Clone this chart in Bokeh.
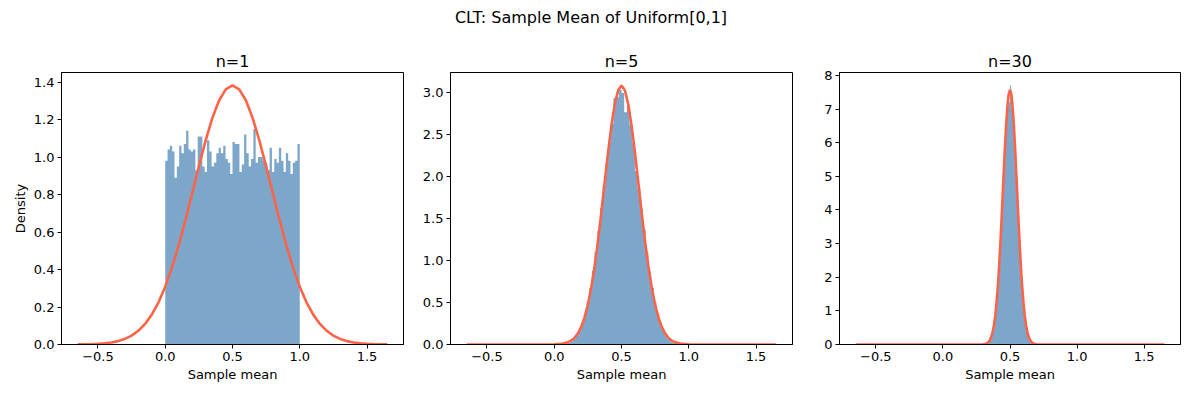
import numpy as np
from bokeh.plotting import figure
from bokeh.layouts import row, column
from bokeh.models import Div, FixedTicker, PrintfTickFormatter, Range1d
from bokeh.embed import file_html
from bokeh.resources import INLINE

# ---------------- data ----------------
suptitle = "CLT: Sample Mean of Uniform[0,1]"
panel_titles = ["n=1", "n=5", "n=30"]
x_label = "Sample mean"
y_label = "Density"
x_ticks = [-0.5, 0.0, 0.5, 1.0, 1.5]
x_tick_labels = ["\u22120.5", "0.0", "0.5", "1.0", "1.5"]

# histogram n=1: bins spanning [0, 1]
hist1_range = (0.0, 1.0)
hist1_density = [0.98, 1.04, 1.06, 1.03, 0.89, 0.95, 1.06, 1.02, 1.07, 1.14,
                 1.04, 1.03, 1.04, 0.93, 1.11, 1.11, 0.95, 0.92, 1.09, 1.03,
                 0.95, 0.97, 1.02, 1.05, 1.02, 1.06, 0.99, 0.97, 0.91, 1.08,
                 1.07, 1.07, 0.92, 0.96, 1.12, 1.02, 0.95, 0.99, 1.15, 0.97,
                 1.00, 1.00, 0.98, 0.97, 0.93, 1.05, 0.92, 0.99, 0.97, 1.05,
                 0.98, 0.92, 1.02, 0.98, 0.91, 0.97, 0.98, 1.07]

# histogram n=5: bins spanning [0.04, 0.96]
hist5_range = (0.04, 0.96)
hist5_density = [0.001, 0.003, 0.009, 0.019, 0.037, 0.066, 0.109, 0.170, 0.253, 0.364,
                 0.504, 0.676, 0.878, 1.107, 1.358, 1.625, 1.897, 2.163, 2.413, 2.631,
                 2.94, 2.95, 3.04,
                 3.00, 2.77, 2.85, 2.62, 2.40, 2.07, 1.86, 1.62, 1.37, 1.10,
                 0.87, 0.68, 0.50, 0.37, 0.25, 0.17, 0.11, 0.066, 0.037, 0.019,
                 0.009, 0.003, 0.001]

# histogram n=30: bins spanning [0.30, 0.70]
hist30_range = (0.30, 0.70)
hist30_density = [0.0075, 0.013, 0.022, 0.037, 0.060, 0.095, 0.147, 0.222, 0.329, 0.475,
                  0.671, 0.927, 1.251, 1.649, 2.125, 2.676, 3.293, 3.959, 4.652, 5.344,
                  5.995, 6.45, 6.85, 7.10, 7.20,
                  7.70, 7.05, 6.90, 6.45, 5.995, 5.344, 4.652, 3.959, 3.293, 2.676,
                  2.125, 1.649, 1.251, 0.927, 0.671, 0.475, 0.329, 0.222, 0.147, 0.095,
                  0.060, 0.037, 0.022, 0.013, 0.0075]

# normal curves
curve1_x = [-0.65, -0.60, -0.55, -0.50, -0.45, -0.40, -0.35, -0.30, -0.25, -0.20,
            -0.15, -0.10, -0.05, 0.00, 0.05, 0.10, 0.15, 0.20, 0.25, 0.30,
            0.35, 0.40, 0.45, 0.50, 0.55, 0.60, 0.65, 0.70, 0.75, 0.80,
            0.85, 0.90, 0.95, 1.00, 1.05, 1.10, 1.15, 1.20, 1.25, 1.30,
            1.35, 1.40, 1.45, 1.50, 1.55, 1.60, 1.65]
curve1_y = [0.0005, 0.0010, 0.0019, 0.0034, 0.0061, 0.0107, 0.0181, 0.0297, 0.0473, 0.0731,
            0.1096, 0.1594, 0.2250, 0.3084, 0.4100, 0.5292, 0.6627, 0.8053, 0.9499, 1.0871,
            1.2075, 1.3016, 1.3614, 1.3820, 1.3614, 1.3016, 1.2075, 1.0871, 0.9499, 0.8053,
            0.6627, 0.5292, 0.4100, 0.3084, 0.2250, 0.1594, 0.1096, 0.0731, 0.0473, 0.0297,
            0.0181, 0.0107, 0.0061, 0.0034, 0.0019, 0.0010, 0.0005]

curve5_x = [-0.65, -0.40, -0.20, -0.10, 0.00, 0.05, 0.10, 0.125, 0.15, 0.175,
            0.20, 0.225, 0.25, 0.275, 0.30, 0.325, 0.35, 0.375, 0.40, 0.425,
            0.45, 0.475, 0.50, 0.525, 0.55, 0.575, 0.60, 0.625, 0.65, 0.675,
            0.70, 0.725, 0.75, 0.775, 0.80, 0.825, 0.85, 0.875, 0.90, 0.95,
            1.00, 1.10, 1.20, 1.40, 1.65]
curve5_y = [0.0, 0.0, 0.0, 0.0000, 0.0017, 0.0071, 0.0254, 0.0455, 0.0783, 0.1300,
            0.2077, 0.3198, 0.4740, 0.6767, 0.9307, 1.2329, 1.5734, 1.9337, 2.2891, 2.6102,
            2.8666, 3.0326, 3.0900, 3.0326, 2.8666, 2.6102, 2.2891, 1.9337, 1.5734, 1.2329,
            0.9307, 0.6767, 0.4740, 0.3198, 0.2077, 0.1300, 0.0783, 0.0455, 0.0254, 0.0071,
            0.0017, 0.0001, 0.0, 0.0, 0.0]

curve30_x = [-0.65, 0.00, 0.25, 0.30, 0.32, 0.34, 0.35, 0.36, 0.37, 0.38,
             0.39, 0.40, 0.41, 0.42, 0.43, 0.44, 0.45, 0.46, 0.47, 0.48,
             0.49, 0.50, 0.51, 0.52, 0.53, 0.54, 0.55, 0.56, 0.57, 0.58,
             0.59, 0.60, 0.61, 0.62, 0.63, 0.64, 0.65, 0.66, 0.68, 0.70,
             0.75, 1.00, 1.65]
curve30_y = [0.0, 0.0, 0.0001, 0.0057, 0.0222, 0.0755, 0.1319, 0.2222, 0.3614, 0.5669,
             0.8576, 1.251, 1.761, 2.392, 3.133, 3.959, 4.826, 5.675, 6.437, 7.043,
             7.434, 7.569, 7.434, 7.043, 6.437, 5.675, 4.826, 3.959, 3.133, 2.392,
             1.761, 1.251, 0.8576, 0.5669, 0.3614, 0.2222, 0.1319, 0.0755, 0.0222, 0.0057,
             0.0001, 0.0, 0.0]

y_ticks1 = [0.0, 0.2, 0.4, 0.6, 0.8, 1.0, 1.2, 1.4]
y_ticks5 = [0.0, 0.5, 1.0, 1.5, 2.0, 2.5, 3.0]
y_ticks30 = [0, 1, 2, 3, 4, 5, 6, 7, 8]

# ---------------- styling ----------------
FONT = "DejaVu Sans"
BAR_COLOR = "steelblue"
CURVE_COLOR = "tomato"
X_LO, X_HI = -0.771, 1.771


def make_panel(title, rng, dens, cx, cy, yticks, yfmt, ymax, width, bl, br, show_ylabel):
    p = figure(width=width, height=351, x_range=Range1d(X_LO, X_HI), y_range=Range1d(0, ymax),
               output_backend="svg", toolbar_location=None, title=title,
               min_border_left=bl, min_border_right=br, min_border_top=34, min_border_bottom=45)
    edges = np.linspace(rng[0], rng[1], len(dens) + 1)
    tops = list(dens) + [dens[-1]]
    p.varea_step(x=edges, y1=np.zeros(len(edges)), y2=tops, step_mode="after",
                 fill_color=BAR_COLOR, fill_alpha=0.7)
    p.line(cx, cy, line_color=CURVE_COLOR, line_width=2.6)

    p.title.text_font = FONT
    p.title.text_font_size = "16px"
    p.title.text_font_style = "normal"
    p.title.align = "center"
    p.title.standoff = 4
    p.title.text_color = "black"

    p.xgrid.visible = False
    p.ygrid.visible = False
    p.outline_line_color = "black"
    p.outline_line_alpha = 1.0
    p.outline_line_width = 1
    p.background_fill_color = "white"
    p.border_fill_color = "white"

    for ax in (p.xaxis[0], p.yaxis[0]):
        ax.axis_line_color = "black"
        ax.major_tick_line_color = "black"
        ax.major_tick_out = 4
        ax.major_tick_in = 0
        ax.minor_tick_line_color = None
        ax.major_label_text_font = FONT
        ax.major_label_text_font_size = "13px"
        ax.major_label_text_color = "black"
        ax.major_label_standoff = 3
        ax.axis_label_text_font = FONT
        ax.axis_label_text_font_size = "13px"
        ax.axis_label_text_font_style = "normal"
        ax.axis_label_text_color = "black"
        ax.axis_label_standoff = 3

    p.xaxis.ticker = FixedTicker(ticks=x_ticks)
    p.xaxis.major_label_overrides = {t: s for t, s in zip(x_ticks, x_tick_labels)}
    p.xaxis.axis_label = x_label
    p.yaxis.ticker = FixedTicker(ticks=yticks)
    p.yaxis.formatter = PrintfTickFormatter(format=yfmt)
    if show_ylabel:
        p.yaxis.axis_label = y_label
    return p


f1 = make_panel(panel_titles[0], hist1_range, hist1_density, curve1_x, curve1_y,
                y_ticks1, "%.1f", 1.451, 417, 61, 14, True)
f2 = make_panel(panel_titles[1], hist5_range, hist5_density, curve5_x, curve5_y,
                y_ticks5, "%.1f", 3.2445, 388, 33, 13, False)
f3 = make_panel(panel_titles[2], hist30_range, hist30_density, curve30_x, curve30_y,
                y_ticks30, "%d", 8.085, 377, 34, 2, False)

head = Div(text=('<div style="text-align:center;font-family:\'DejaVu Sans\';font-size:16px;'
                 'line-height:19px;color:black;width:1182px;padding-top:8px;">' + suptitle + '</div>'),
           width=1182, height=38, margin=0)

layout = column(head, row(f1, f2, f3, spacing=0), spacing=0)

open("out.html", "w").write(file_html(layout, INLINE))
